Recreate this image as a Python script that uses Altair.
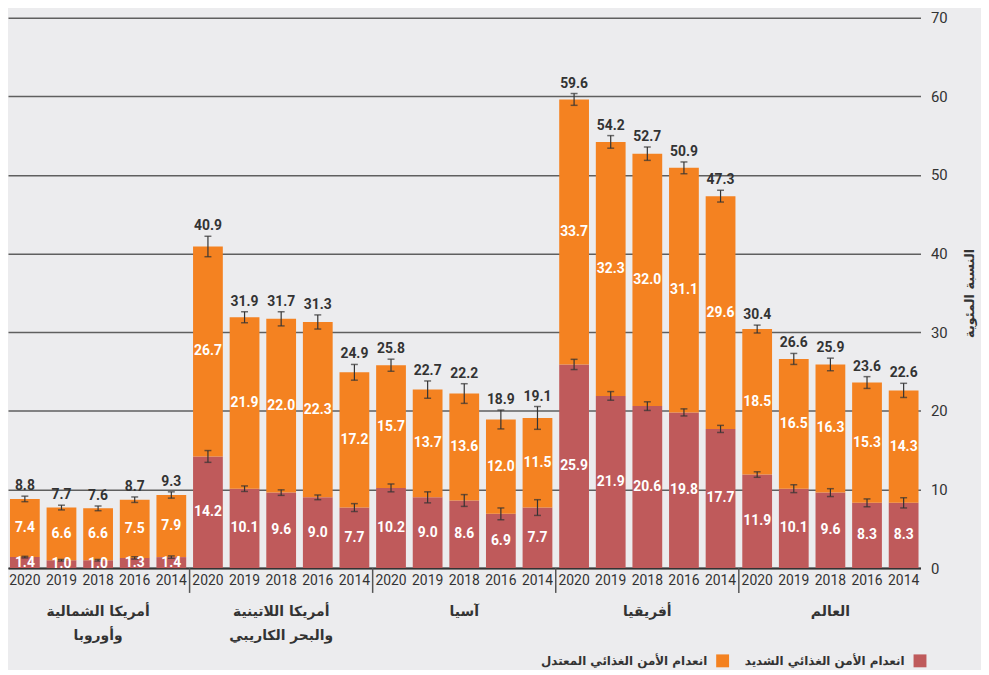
import altair as alt
import pandas as pd

# ---------------- data ----------------
group_lines = [
    ["أمريكا الشمالية", "وأوروبا"],
    ["أمريكا اللاتينية", "والبحر الكاريبي"],
    ["آسيا"],
    ["أفريقيا"],
    ["العالم"],
]
years = ["2020", "2019", "2018", "2016", "2014"]

severe = [1.4, 1.0, 1.0, 1.3, 1.4,
          14.2, 10.1, 9.6, 9.0, 7.7,
          10.2, 9.0, 8.6, 6.9, 7.7,
          25.9, 21.9, 20.6, 19.8, 17.7,
          11.9, 10.1, 9.6, 8.3, 8.3]
moderate = [7.4, 6.6, 6.6, 7.5, 7.9,
            26.7, 21.9, 22.0, 22.3, 17.2,
            15.7, 13.7, 13.6, 12.0, 11.5,
            33.7, 32.3, 32.0, 31.1, 29.6,
            18.5, 16.5, 16.3, 15.3, 14.3]
total = [8.8, 7.7, 7.6, 8.7, 9.3,
         40.9, 31.9, 31.7, 31.3, 24.9,
         25.8, 22.7, 22.2, 18.9, 19.1,
         59.6, 54.2, 52.7, 50.9, 47.3,
         30.4, 26.6, 25.9, 23.6, 22.6]
total_err = [0.35, 0.3, 0.3, 0.35, 0.4,
             1.3, 0.7, 0.9, 0.9, 1.0,
             0.77, 1.1, 1.25, 1.2, 1.45,
             0.75, 0.8, 0.85, 0.75, 0.75,
             0.5, 0.7, 0.8, 0.75, 0.9]
severe_err = [0.1, 0.1, 0.1, 0.15, 0.15,
              0.75, 0.35, 0.35, 0.3, 0.5,
              0.5, 0.7, 0.75, 0.75, 1.0,
              0.65, 0.55, 0.55, 0.45, 0.45,
              0.35, 0.5, 0.5, 0.5, 0.65]

SEV = "انعدام الأمن الغذائي الشديد"
MOD = "انعدام الأمن الغذائي المعتدل"
ORANGE = "#F48221"
RED = "#BF5A5B"
INK = "#333333"
NUMFONT = "Roboto, sans-serif"
ARFONT = "DejaVu Sans"

W, H = 920, 555

keys = [f"{g}-{y}" for g in range(len(group_lines)) for y in years]

seg_rows = []
for i, k in enumerate(keys):
    seg_rows.append(dict(key=k, type=SEV, start=0.0, end=severe[i],
                         mid=severe[i] / 2, val=severe[i]))
    seg_rows.append(dict(key=k, type=MOD, start=severe[i], end=total[i],
                         mid=(severe[i] + total[i]) / 2, val=moderate[i]))
seg = pd.DataFrame(seg_rows)

tot = pd.DataFrame(dict(key=keys, total=total,
                        top=[t + e for t, e in zip(total, total_err)]))

err_rows = []
for i, k in enumerate(keys):
    err_rows.append(dict(key=k, lo=total[i] - total_err[i], hi=total[i] + total_err[i]))
    err_rows.append(dict(key=k, lo=severe[i] - severe_err[i], hi=severe[i] + severe_err[i]))
err = pd.DataFrame(err_rows)

grp = pd.DataFrame(dict(key=[f"{g}-{years[2]}" for g in range(len(group_lines))],
                        lines=group_lines))
sep = pd.DataFrame(dict(key=[f"{g}-{years[0]}" for g in range(1, len(group_lines))]))

# ---------------- encodings ----------------
xenc = alt.X(
    "key:N", sort=keys,
    scale=alt.Scale(paddingInner=0.187, paddingOuter=0.054),
    axis=alt.Axis(title=None, labelExpr="split(datum.label,'-')[1]", labelAngle=0,
                  ticks=False, domainColor=INK, domainWidth=2, labelFontSize=14,
                  labelColor=INK, labelFont=NUMFONT, labelPadding=6, grid=False),
)
yscale = alt.Scale(domain=[0, 70])

base = alt.Chart(seg)

bars = base.mark_bar().encode(
    x=xenc,
    y=alt.Y("start:Q", scale=yscale,
            axis=alt.Axis(orient="right", values=list(range(0, 80, 10)),
                          title="النسبة المئوية", titleAngle=270,
                          titleFont=ARFONT, titleFontWeight="bold", titleFontSize=13,
                          titleColor=INK, titlePadding=30,
                          grid=True, gridColor="#5f5f5f", gridWidth=1.5,
                          ticks=False, domain=False, labelPadding=10,
                          labelFontSize=15, labelFont=NUMFONT, labelColor=INK)),
    y2="end:Q",
    color=alt.Color("type:N",
                    scale=alt.Scale(domain=[MOD, SEV], range=[ORANGE, RED]),
                    legend=alt.Legend(title=None, orient="none", legendX=714, legendY=642,
                                      direction="horizontal", symbolType="square",
                                      symbolSize=169, symbolStrokeWidth=0,
                                      labelAlign="right", labelOffset={"expr": "-22"},
                                      labelFont=ARFONT, labelFontWeight="bold",
                                      labelFontSize=12, labelColor=INK, labelLimit=400,
                                      columnPadding=15, padding=0)),
)

seg_labels = base.mark_text(color="white", font=NUMFONT, fontWeight="bold",
                            fontSize=14, baseline="middle").encode(
    x=alt.X("key:N", sort=keys),
    y=alt.Y("mid:Q", scale=yscale),
    text=alt.Text("val:Q", format=".1f"),
)

ebase = alt.Chart(err)
err_rule = ebase.mark_rule(color=INK, strokeWidth=1.2).encode(
    x=alt.X("key:N", sort=keys), y=alt.Y("lo:Q", scale=yscale), y2="hi:Q")
err_lo = ebase.mark_tick(color=INK, thickness=1.5, size=7).encode(
    x=alt.X("key:N", sort=keys), y=alt.Y("lo:Q", scale=yscale))
err_hi = ebase.mark_tick(color=INK, thickness=1.5, size=7).encode(
    x=alt.X("key:N", sort=keys), y=alt.Y("hi:Q", scale=yscale))

tot_labels = alt.Chart(tot).mark_text(color=INK, font=NUMFONT, fontWeight="bold",
                                      fontSize=14, baseline="bottom", dy=-3).encode(
    x=alt.X("key:N", sort=keys),
    y=alt.Y("top:Q", scale=yscale),
    text=alt.Text("total:Q", format=".1f"),
)

grp_labels = alt.Chart(grp).mark_text(color=INK, font=ARFONT, fontWeight="bold",
                                      fontSize=14, baseline="top", lineHeight=24).encode(
    x=alt.X("key:N", sort=keys),
    y=alt.value(H + 37),
    text="lines",
)

seps = alt.Chart(sep).mark_rule(color="#555555", strokeWidth=1.5, xOffset=-3.5).encode(
    x=alt.X("key:N", sort=keys, bandPosition=0),
    y=alt.value(H),
    y2=alt.value(H + 25),
)

chart = alt.layer(
    bars, seps, err_rule, err_lo, err_hi, seg_labels, tot_labels, grp_labels
).properties(
    width=W, height=H,
    autosize=alt.AutoSizeParams(type="none"),
    padding={"left": 0, "top": 7, "right": 61, "bottom": 100},
    background="#ECECEE",
).configure_view(stroke=None)

chart.save("out.html", embed_options={"renderer": "svg", "actions": False})
